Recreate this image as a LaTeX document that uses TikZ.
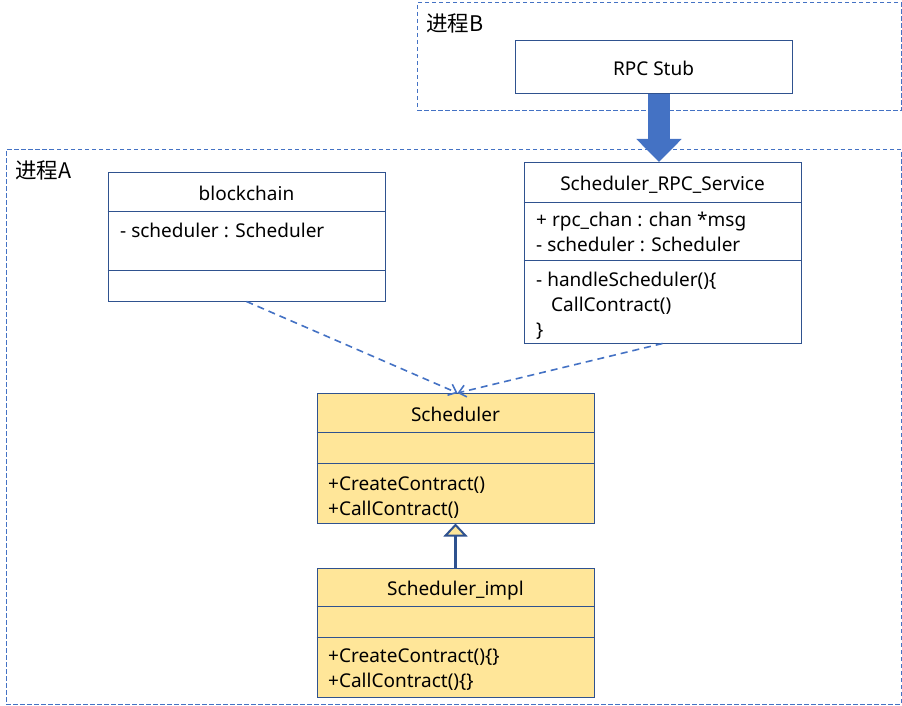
\documentclass[tikz,border=0pt]{standalone}
\usepackage{fontspec}
\setmainfont{Noto Sans}
\newfontfamily\cjk{Noto Sans CJK SC}
\usetikzlibrary{arrows.meta}
\definecolor{boxblue}{HTML}{2F528F}
\definecolor{lineblue}{HTML}{4472C4}
\definecolor{clsyellow}{HTML}{FFE699}
\tikzset{
  procbox/.style={draw=lineblue, line width=1pt, dash pattern=on 4.5pt off 2.5pt, inner sep=0pt},
  proclabel/.style={font=\cjk\fontsize{21.5}{24}\selectfont, inner sep=0pt, anchor=west},
  clsbox/.style={draw=boxblue, line width=1pt, fill=white, minimum width=277pt, inner sep=0pt},
  implbox/.style={clsbox, fill=clsyellow},
  clsname/.style={font=\fontsize{19}{25}\selectfont, inner sep=0pt, anchor=base},
  member/.style={font=\fontsize{19}{25}\selectfont, inner sep=0pt, anchor=base west},
  dep/.style={draw=lineblue, line width=1.6pt, dash pattern=on 7pt off 5pt,
    -{Straight Barb[length=7pt, width=12pt]}}
}
\begin{document}
\begin{tikzpicture}[x=1pt, y=-1pt]
\useasboundingbox (0,0) rectangle (902,706);

% processes
\node[procbox, minimum width=484pt, minimum height=108pt] (procB) at (659,57) {};
\node[proclabel] (procBname) at (426,23) {进程B};
\node[procbox, minimum width=895pt, minimum height=554pt] (procA) at (453.5,427) {};
\node[proclabel] (procAname) at (15,170) {进程A};

% rpc stub
\node[clsbox, minimum height=53pt] (stub) at (653.5,67.5) {};
\node[clsname] (stubname) at (653.5,76) {RPC Stub};

% blockchain
\node[clsbox, minimum height=129pt] (blk) at (246.5,236.5) {};
\draw[boxblue] (blk.west |- 0,211) -- (blk.east |- 0,211);
\draw[boxblue] (blk.west |- 0,270) -- (blk.east |- 0,270);
\node[clsname] (blkname) at (246.5,200) {blockchain};
\node[member] (blkattr) at (120,237) {- scheduler : Scheduler};

% rpc service
\node[clsbox, minimum height=180.5pt] (rpc) at (662.5,252.75) {};
\draw[boxblue] (rpc.west |- 0,202) -- (rpc.east |- 0,202);
\draw[boxblue] (rpc.west |- 0,260) -- (rpc.east |- 0,260);
\node[clsname] (rpcname) at (662.5,190) {Scheduler\_RPC\_Service};
\node[member] (rpcattrA) at (536,226) {+ rpc\_chan : chan *msg};
\node[member] (rpcattrB) at (536,251) {- scheduler : Scheduler};
\node[member] (rpcopA) at (536,286) {- handleScheduler()\{};
\node[member] (rpcopB) at (551,311) {CallContract()};
\node[member] (rpcopC) at (536,336) {\}};

% scheduler
\node[implbox, minimum height=129.5pt] (sched) at (455.5,458.25) {};
\draw[boxblue] (sched.west |- 0,432) -- (sched.east |- 0,432);
\draw[boxblue] (sched.west |- 0,463) -- (sched.east |- 0,463);
\node[clsname] (schedname) at (455.5,421) {Scheduler};
\node[member] (schedopA) at (328,490) {+CreateContract()};
\node[member] (schedopB) at (328,515) {+CallContract()};

% scheduler impl
\node[implbox, minimum height=129pt] (impl) at (455.5,632.5) {};
\draw[boxblue] (impl.west |- 0,606.5) -- (impl.east |- 0,606.5);
\draw[boxblue] (impl.west |- 0,637) -- (impl.east |- 0,637);
\node[clsname] (implname) at (455.5,595) {Scheduler\_impl};
\node[member] (implopA) at (328,662) {+CreateContract()\{\}};
\node[member] (implopB) at (328,687) {+CallContract()\{\}};

% connectors
\coordinate (flow) at (659,0);
\draw[lineblue, line width=22pt, -{Triangle[width=44pt, length=23pt]}] (stub.south -| flow) -- (rpc.north -| flow);
\draw[dep] (blk.south) -- ([xshift=2pt]sched.north);
\draw[dep] (rpc.south) -- ([xshift=2pt]sched.north);
\draw[boxblue, line width=3.5pt, -{Triangle[open, fill=clsyellow, width=24pt, length=13pt, line width=2pt]}] (impl.north) -- (sched.south);
\end{tikzpicture}
\end{document}
